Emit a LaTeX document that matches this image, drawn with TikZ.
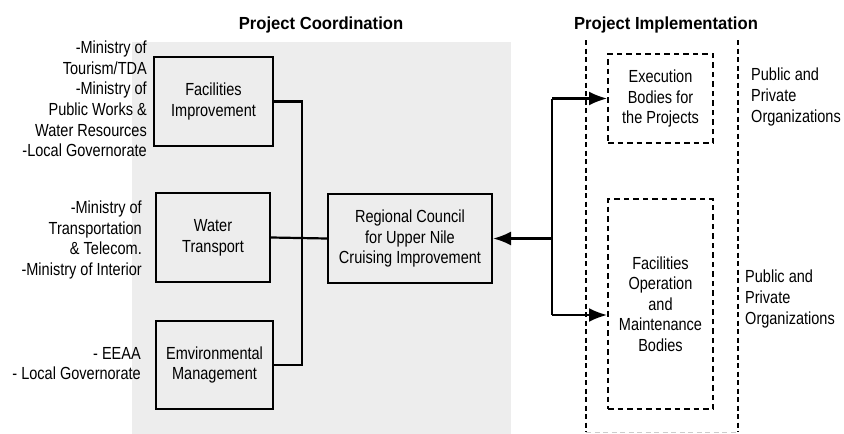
\documentclass[tikz,border=0pt]{standalone}
\usepackage{fontspec}
\setmainfont{Liberation Sans}[FakeStretch=0.83]
\newfontfamily\titlefont{Liberation Sans}[FakeStretch=0.95]
\usetikzlibrary{arrows.meta,calc}
\definecolor{bggray}{HTML}{EDEDED}
\begin{document}
\begin{tikzpicture}[x=1pt,y=-1pt,
  every node/.style={font=\fontsize{17.5}{20.6}\selectfont},
  solidbox/.style={draw,line width=2.2pt,minimum width=#1,inner sep=0pt,align=center},
  dbox/.style={draw,line width=1.9pt,dash pattern=on 5.5pt off 4pt,inner sep=0pt,align=center},
  conn/.style={line width=2.2pt},
  arr/.style={line width=2.2pt,-{Latex[length=18pt,width=14pt]}},
  side/.style={inner sep=0pt},
  ttl/.style={font=\titlefont\bfseries\fontsize{17.5}{20.6}\selectfont,inner sep=0pt}]
\useasboundingbox (0,0) rectangle (844,434);
\fill[bggray] (132,42) rectangle (511,434);
% titles
\node[ttl] (t1) at (321,25) {Project Coordination};
\node[ttl] (t2) at (666,25) {Project Implementation};
% left boxes
\node[solidbox=119pt,minimum height=89pt] (fac) at (213.5,101.5) {Facilities\\Improvement};
\node[solidbox=114pt,minimum height=89pt] (wat) at (213,237.5) {Water\\Transport};
\node[solidbox=117pt,minimum height=88pt] (env) at (214.5,365) {Emvironmental\\Management};
\node[solidbox=164pt,minimum height=89pt] (rc) at (410,238.5) {Regional Council\\for Upper Nile\\Cruising Improvement};
% side texts
\node[side,anchor=east,align=right] (s1) at (147,99) {-Ministry of\\Tourism/TDA\\-Ministry of\\Public Works \&\\Water Resources\\-Local Governorate};
\node[side,anchor=east,align=right] (s2) at (142,240) {-Ministry of\\Transportation\\\& Telecom.\\-Ministry of Interior};
\node[side,anchor=east,align=right] (s3) at (141,363.5) {- EEAA\\- Local Governorate};
% implementation
\draw[line width=1.8pt,dash pattern=on 5pt off 3.5pt] (586,40) -- (586,432);
\draw[line width=1.8pt,dash pattern=on 5pt off 3.5pt] (738,40) -- (738,432);
\draw[line width=1pt,gray!40,dash pattern=on 5pt off 3.5pt] (586,432) -- (738,432);
\node[dbox,minimum width=105pt,minimum height=89pt] (exe) at (660.5,98.5) {Execution\\Bodies for\\the Projects};
\node[dbox,minimum width=105pt,minimum height=210pt] (ops) at (660.5,304) {Facilities\\Operation\\and\\Maintenance\\Bodies};
\node[side,anchor=west,align=left] (p1) at (751,97) {Public and\\Private\\Organizations};
\node[side,anchor=west,align=left] (p2) at (745,299) {Public and\\Private\\Organizations};
% connectors
\coordinate (jl) at (302,0);
\draw[conn] (fac.east) -- (fac.east -| jl) -- (env.east -| jl) -- (env.east);
\draw[conn] (wat.east) -- (rc.west);
\coordinate (jt) at (552,98.5);
\coordinate (jm) at (552,238.5);
\coordinate (jb) at (552,315);
\draw[conn] (jt) -- (jb);
\draw[arr] (jm) -- (rc.east);
\draw[arr] (jt) -- (exe.west);
\draw[arr] (jb) -- (jb -| ops.west);
\end{tikzpicture}
\end{document}
